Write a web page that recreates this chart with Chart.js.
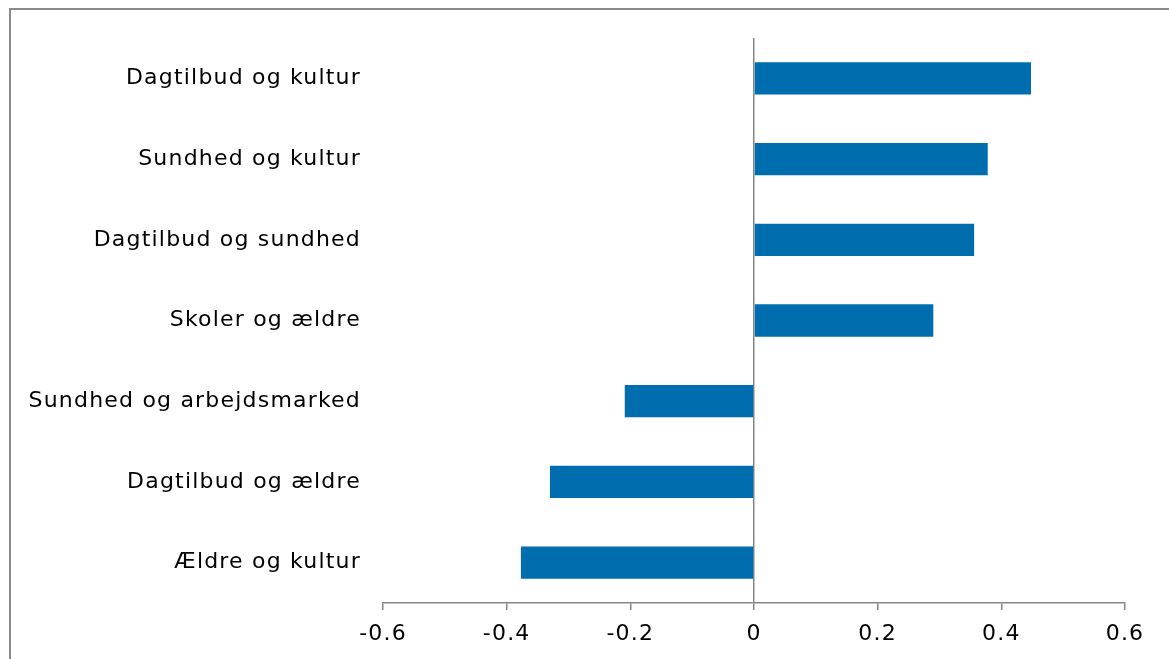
<!DOCTYPE html>
<html>
<head>
<meta charset="utf-8">
<script src="https://cdn.jsdelivr.net/npm/chart.js@4/dist/chart.umd.min.js"></script>
<style>
  html, body { margin: 0; padding: 0; background: #fff; overflow: hidden; }
  #wrap { position: relative; width: 1169px; height: 659px; }
  #frame { position: absolute; left: 9px; top: 8px; width: 1300px; height: 800px;
           border-left: 2px solid #8a8a8a; border-top: 2px solid #8a8a8a; box-sizing: border-box; pointer-events: none; }
  canvas { position: absolute; left: 0; top: 0; }
</style>
</head>
<body>
<div id="wrap">
  <canvas id="c" width="1169" height="659"></canvas>
  <div id="frame"></div>
</div>
<script>
const categories = [
  "Dagtilbud og kultur",
  "Sundhed og kultur",
  "Dagtilbud og sundhed",
  "Skoler og ældre",
  "Sundhed og arbejdsmarked",
  "Dagtilbud og ældre",
  "Ældre og kultur"
];
const values = [0.448, 0.378, 0.356, 0.290, -0.209, -0.330, -0.377];
const xTicks = [-0.6, -0.4, -0.2, 0, 0.2, 0.4, 0.6];

const AXIS = '#868686';
const FONT = { family: '"DejaVu Sans", Verdana, sans-serif', size: 22 };

const spacingPlugin = {
  id: 'spacing',
  beforeInit(chart) { chart.ctx.letterSpacing = '1.2px'; },
  beforeDraw(chart) { chart.ctx.letterSpacing = '1.2px'; }
};

new Chart(document.getElementById('c'), {
  type: 'bar',
  plugins: [spacingPlugin],
  data: {
    labels: categories,
    datasets: [{
      data: values,
      backgroundColor: '#006EAE',
      borderWidth: 0,
      barPercentage: 0.4,
      categoryPercentage: 1.0
    }]
  },
  options: {
    indexAxis: 'y',
    responsive: false,
    animation: false,
    devicePixelRatio: 1,
    layout: { padding: { top: 38, right: 44, bottom: 0, left: 0 } },
    plugins: { legend: { display: false }, tooltip: { enabled: false } },
    scales: {
      x: {
        type: 'linear',
        min: -0.6,
        max: 0.6,
        afterBuildTicks: (axis) => { axis.ticks = xTicks.map(v => ({ value: v })); },
        afterFit: (axis) => { axis.height = 56; },
        ticks: {
          font: FONT,
          color: '#000',
          padding: 11,
          maxRotation: 0,
          callback: (v) => String(Math.round(v * 10) / 10)
        },
        grid: {
          drawOnChartArea: true,
          drawTicks: true,
          tickLength: 7,
          color: (ctx) => (ctx.tick && ctx.tick.value === 0) ? AXIS : 'rgba(0,0,0,0)',
          tickColor: AXIS,
          lineWidth: 1.5,
          tickWidth: 1.5
        },
        border: { display: true, color: AXIS, width: 1.5 }
      },
      y: {
        afterFit: (axis) => { axis.width = 383; },
        ticks: { font: FONT, color: '#000', padding: 22 },
        grid: { display: false, drawTicks: false, tickLength: 0 },
        border: { display: false }
      }
    }
  }
});
</script>
</body>
</html>
